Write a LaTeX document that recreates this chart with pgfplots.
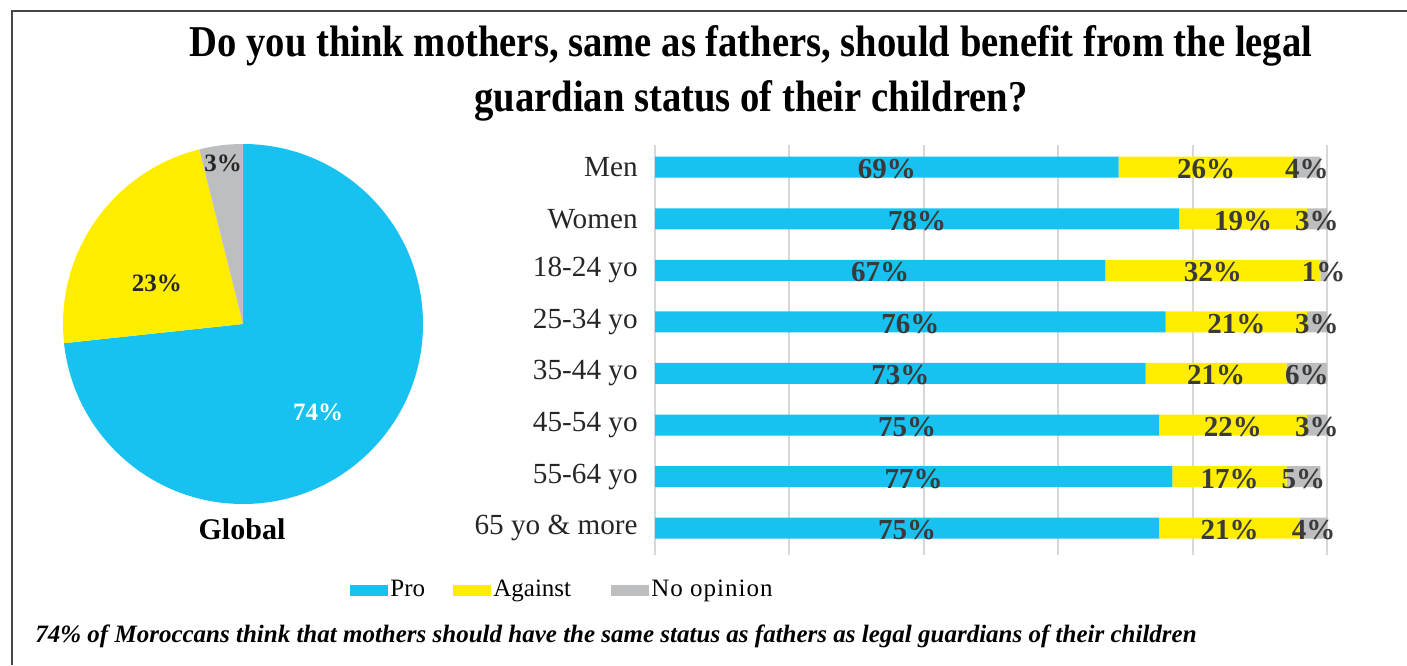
\documentclass[border=0pt]{standalone}
\usepackage{graphicx}
\usepackage{pgfplots}
\pgfplotsset{compat=1.18}
\usepackage{pgfplotstable}
\usepackage{fontspec}
\setmainfont{Liberation Serif}
\definecolor{pro}{RGB}{23,193,240}
\definecolor{against}{RGB}{255,237,0}
\definecolor{noop}{RGB}{189,190,192}
\definecolor{lbl}{RGB}{58,58,58}
\definecolor{framec}{RGB}{70,70,70}
\definecolor{gridc}{RGB}{215,215,215}

\pgfplotstableread{
idx pro against noop
0 69 26 4
1 78 19 3
2 67 32 1
3 76 21 3
4 73 21 6
5 75 22 3
6 77 17 5
7 75 21 4
}\bars

% Global (pie) shares
\def\gPro{73.3}
\def\gAgainst{22.8}
\def\gNoop{3.9}

\begin{document}
\begin{tikzpicture}
\path[use as bounding box] (0,0) rectangle (703.5pt,332.5pt);
\pgfmathsetmacro\aA{90-3.6*\gPro}
\pgfmathsetmacro\aB{\aA-3.6*\gAgainst}
\pgfmathsetmacro\aC{\aB-3.6*\gNoop}
\begin{scope}[x=0.5pt,y=0.5pt]
\draw[framec, line width=0.8pt] (12,0) -- (12,654) -- (1407,654);
\node[anchor=base, inner sep=0pt, font=\fontsize{22}{26}\selectfont\bfseries] at (751,608) {\scalebox{0.878}[1]{Do you think mothers, same as fathers, should benefit from the legal}};
\node[anchor=base, inner sep=0pt, font=\fontsize{22}{26}\selectfont\bfseries] at (751,553) {\scalebox{0.878}[1]{guardian status of their children?}};
\node[anchor=base west, inner sep=0pt, font=\fontsize{12.5}{15}\selectfont\bfseries\itshape] at (35,23) {74\% of Moroccans think that mothers should have the same status as fathers as legal guardians of their children};
\node[anchor=base, inner sep=0pt, font=\fontsize{15}{18}\selectfont\bfseries] at (242,126) {Global};
\end{scope}

\begin{axis}[at={(121.5pt,170.5pt)}, anchor=center, hide axis, scale only axis,
  width=180pt, height=180pt, xmin=-1, xmax=1, ymin=-1, ymax=1]
\fill[pro] (axis cs:0,0) -- ++(90:90pt) arc[start angle=90, end angle=\aA, radius=90pt] -- cycle;
\fill[against] (axis cs:0,0) -- ++(\aA:90pt) arc[start angle=\aA, end angle=\aB, radius=90pt] -- cycle;
\fill[noop] (axis cs:0,0) -- ++(\aB:90pt) arc[start angle=\aB, end angle=\aC, radius=90pt] -- cycle;
\node[font=\fontsize{12.5}{14}\selectfont\bfseries, text=black!85] at (axis cs:-0.111,0.894) {3\%};
\node[font=\fontsize{12.5}{14}\selectfont\bfseries, text=black!85] at (axis cs:-0.478,0.228) {23\%};
\node[font=\fontsize{12.5}{14}\selectfont\bfseries, text=white] at (axis cs:0.417,-0.489) {74\%};
\end{axis}

\begin{axis}[at={(327.5pt,55pt)}, anchor=south west, scale only axis,
  width=336pt, height=205pt,
  xbar stacked, bar width=10.5pt,
  xmin=0, xmax=100, ymin=-0.43, ymax=7.52, y dir=reverse,
  xtick={0,20,40,60,80,100}, xticklabels={},
  xmajorgrids, grid style={gridc, line width=1pt},
  ytick={0,...,7},
  yticklabels={Men, Women, 18-24 yo, 25-34 yo, 35-44 yo, 45-54 yo, 55-64 yo, 65 yo \& more},
  yticklabel style={font=\fontsize{14.6}{18}\selectfont, text=black!85, inner sep=0pt, xshift=-8.5pt},
  axis line style={draw=none}, major tick length=0pt, tick style={draw=none},
  nodes near coords={\pgfmathprintnumber[assume math mode=true]{\pgfplotspointmeta}\%},
  every node near coord/.append style={font=\fontsize{14.5}{16}\selectfont\bfseries, text=lbl, yshift=-1pt},
  legend columns=3,
  legend image code/.code={\fill[#1] (0pt,-2.75pt) rectangle (19pt,2.75pt);},
  legend style={at={(axis description cs:-0.4539,-0.0854)}, anchor=west, draw=none, fill=none,
    inner sep=0pt, font=\fontsize{12.5}{14}\selectfont,
    /tikz/column sep=0pt, nodes={inner sep=1pt, anchor=west}},
]
\addplot[fill=pro, draw=none] table[x=pro, y=idx] {\bars};
\addplot[fill=against, draw=none] table[x=against, y=idx] {\bars};
\addplot[fill=noop, draw=none] table[x=noop, y=idx] {\bars};
\legend{\makebox[30.5pt][l]{Pro}, \makebox[58pt][l]{Against}, {\addfontfeatures{LetterSpace=4}No opinion}}
\end{axis}
\end{tikzpicture}
\end{document}
